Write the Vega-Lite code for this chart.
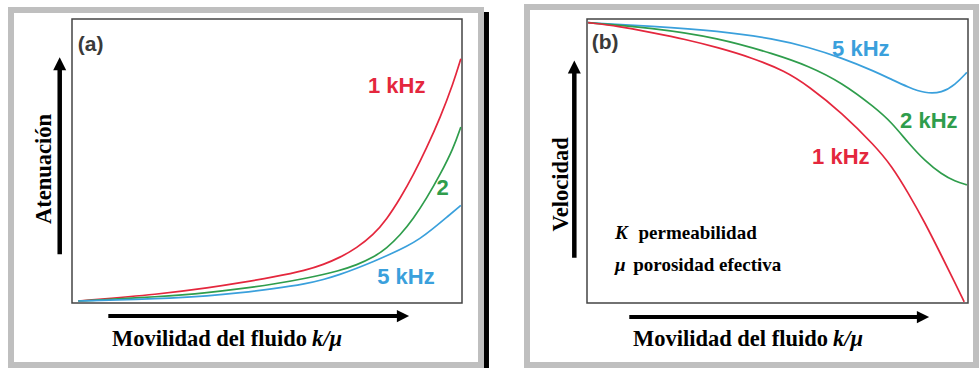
{
  "$schema": "https://vega.github.io/schema/vega-lite/v6.json",
  "background": "white",
  "padding": {"left": 8, "top": 3, "right": 0, "bottom": 0},
  "bounds": "flush",
  "spacing": 125,
  "config": {"view": {"stroke": null}},
  "datasets": {
    "curvesA": [
      {"f": "1 kHz", "x": 0.016, "y": 0.007}, {"f": "1 kHz", "x": 0.226, "y": 0.031}, {"f": "1 kHz", "x": 0.354, "y": 0.054}, {"f": "1 kHz", "x": 0.431, "y": 0.071}, {"f": "1 kHz", "x": 0.516, "y": 0.091}, {"f": "1 kHz", "x": 0.602, "y": 0.116}, {"f": "1 kHz", "x": 0.644, "y": 0.135}, {"f": "1 kHz", "x": 0.687, "y": 0.160}, {"f": "1 kHz", "x": 0.730, "y": 0.194}, {"f": "1 kHz", "x": 0.773, "y": 0.240}, {"f": "1 kHz", "x": 0.807, "y": 0.295}, {"f": "1 kHz", "x": 0.841, "y": 0.367}, {"f": "1 kHz", "x": 0.875, "y": 0.450}, {"f": "1 kHz", "x": 0.909, "y": 0.545}, {"f": "1 kHz", "x": 0.944, "y": 0.652}, {"f": "1 kHz", "x": 0.978, "y": 0.775}, {"f": "1 kHz", "x": 0.997, "y": 0.860},
      {"f": "2 kHz", "x": 0.016, "y": 0.007}, {"f": "2 kHz", "x": 0.226, "y": 0.022}, {"f": "2 kHz", "x": 0.354, "y": 0.037}, {"f": "2 kHz", "x": 0.431, "y": 0.050}, {"f": "2 kHz", "x": 0.516, "y": 0.066}, {"f": "2 kHz", "x": 0.602, "y": 0.087}, {"f": "2 kHz", "x": 0.687, "y": 0.114}, {"f": "2 kHz", "x": 0.730, "y": 0.134}, {"f": "2 kHz", "x": 0.773, "y": 0.161}, {"f": "2 kHz", "x": 0.807, "y": 0.193}, {"f": "2 kHz", "x": 0.841, "y": 0.238}, {"f": "2 kHz", "x": 0.875, "y": 0.296}, {"f": "2 kHz", "x": 0.909, "y": 0.368}, {"f": "2 kHz", "x": 0.944, "y": 0.452}, {"f": "2 kHz", "x": 0.978, "y": 0.545}, {"f": "2 kHz", "x": 0.997, "y": 0.620},
      {"f": "5 kHz", "x": 0.016, "y": 0.007}, {"f": "5 kHz", "x": 0.226, "y": 0.015}, {"f": "5 kHz", "x": 0.354, "y": 0.025}, {"f": "5 kHz", "x": 0.431, "y": 0.036}, {"f": "5 kHz", "x": 0.516, "y": 0.050}, {"f": "5 kHz", "x": 0.602, "y": 0.068}, {"f": "5 kHz", "x": 0.644, "y": 0.082}, {"f": "5 kHz", "x": 0.687, "y": 0.100}, {"f": "5 kHz", "x": 0.730, "y": 0.122}, {"f": "5 kHz", "x": 0.773, "y": 0.146}, {"f": "5 kHz", "x": 0.815, "y": 0.171}, {"f": "5 kHz", "x": 0.858, "y": 0.199}, {"f": "5 kHz", "x": 0.892, "y": 0.226}, {"f": "5 kHz", "x": 0.926, "y": 0.262}, {"f": "5 kHz", "x": 0.961, "y": 0.302}, {"f": "5 kHz", "x": 0.997, "y": 0.344}
    ],
    "curvesB": [
      {"f": "5 kHz", "x": 0.003, "y": 0.987}, {"f": "5 kHz", "x": 0.170, "y": 0.975}, {"f": "5 kHz", "x": 0.345, "y": 0.958}, {"f": "5 kHz", "x": 0.493, "y": 0.930}, {"f": "5 kHz", "x": 0.580, "y": 0.901}, {"f": "5 kHz", "x": 0.669, "y": 0.863}, {"f": "5 kHz", "x": 0.756, "y": 0.815}, {"f": "5 kHz", "x": 0.801, "y": 0.786}, {"f": "5 kHz", "x": 0.843, "y": 0.760}, {"f": "5 kHz", "x": 0.887, "y": 0.738}, {"f": "5 kHz", "x": 0.932, "y": 0.740}, {"f": "5 kHz", "x": 0.966, "y": 0.768}, {"f": "5 kHz", "x": 0.997, "y": 0.812},
      {"f": "2 kHz", "x": 0.003, "y": 0.987}, {"f": "2 kHz", "x": 0.170, "y": 0.969}, {"f": "2 kHz", "x": 0.345, "y": 0.934}, {"f": "2 kHz", "x": 0.493, "y": 0.876}, {"f": "2 kHz", "x": 0.581, "y": 0.835}, {"f": "2 kHz", "x": 0.669, "y": 0.776}, {"f": "2 kHz", "x": 0.756, "y": 0.688}, {"f": "2 kHz", "x": 0.800, "y": 0.635}, {"f": "2 kHz", "x": 0.843, "y": 0.564}, {"f": "2 kHz", "x": 0.887, "y": 0.500}, {"f": "2 kHz", "x": 0.931, "y": 0.453}, {"f": "2 kHz", "x": 0.966, "y": 0.428}, {"f": "2 kHz", "x": 0.997, "y": 0.416},
      {"f": "1 kHz", "x": 0.003, "y": 0.987}, {"f": "1 kHz", "x": 0.082, "y": 0.975}, {"f": "1 kHz", "x": 0.170, "y": 0.952}, {"f": "1 kHz", "x": 0.257, "y": 0.929}, {"f": "1 kHz", "x": 0.345, "y": 0.899}, {"f": "1 kHz", "x": 0.432, "y": 0.864}, {"f": "1 kHz", "x": 0.520, "y": 0.817}, {"f": "1 kHz", "x": 0.581, "y": 0.764}, {"f": "1 kHz", "x": 0.669, "y": 0.670}, {"f": "1 kHz", "x": 0.756, "y": 0.553}, {"f": "1 kHz", "x": 0.800, "y": 0.482}, {"f": "1 kHz", "x": 0.843, "y": 0.388}, {"f": "1 kHz", "x": 0.887, "y": 0.283}, {"f": "1 kHz", "x": 0.931, "y": 0.165}, {"f": "1 kHz", "x": 0.966, "y": 0.071}, {"f": "1 kHz", "x": 0.990, "y": 0.004}
    ],
    "labelsA": [
      {"t": "1 kHz", "f": "1 kHz", "x": 0.8326, "y": 0.7648},
      {"t": "2", "f": "2 kHz", "x": 0.950, "y": 0.4056},
      {"t": "5 kHz", "f": "5 kHz", "x": 0.8564, "y": 0.0915}
    ],
    "labelsB": [
      {"t": "5 kHz", "f": "5 kHz", "x": 0.7187, "y": 0.8961},
      {"t": "2 kHz", "f": "2 kHz", "x": 0.8971, "y": 0.6423},
      {"t": "1 kHz", "f": "1 kHz", "x": 0.6662, "y": 0.5130}
    ]
  },
  "hconcat": [
    {
      "width": 390,
      "height": 284,
      "layer": [
        {"data": {"values": [{}]}, "mark": {"type": "rect", "fill": "#000000"},
         "encoding": {"x": {"datum": -0.1513, "type": "quantitative", "scale": {"domain": [0, 1], "nice": false, "zero": false}, "axis": null}, "x2": {"datum": 1.0692}, "y": {"datum": 1.0246, "type": "quantitative", "scale": {"domain": [0, 1], "nice": false, "zero": false}, "axis": null}, "y2": {"datum": -0.2324}}},
        {"data": {"values": [{}]}, "mark": {"type": "rect", "fill": "#ffffff", "stroke": "#bfbfbf", "strokeWidth": 6},
         "encoding": {"x": {"datum": -0.1564, "type": "quantitative", "axis": null}, "x2": {"datum": 1.0487}, "y": {"datum": 1.0317, "type": "quantitative", "axis": null}, "y2": {"datum": -0.2183}}},
        {"data": {"values": [{}]}, "mark": {"type": "rect", "fill": "#ffffff", "fillOpacity": 0, "stroke": "#444444", "strokeWidth": 1.5},
         "encoding": {"x": {"datum": 0, "type": "quantitative", "axis": null}, "x2": {"datum": 1}, "y": {"datum": 1, "type": "quantitative", "axis": null}, "y2": {"datum": 0}}},
        {"data": {"name": "curvesA"}, "mark": {"type": "line", "interpolate": "basis", "strokeWidth": 1.7},
         "encoding": {"x": {"field": "x", "type": "quantitative", "axis": null}, "y": {"field": "y", "type": "quantitative", "axis": null}, "color": {"field": "f", "type": "nominal", "scale": {"domain": ["1 kHz", "2 kHz", "5 kHz"], "range": ["#e4273d", "#2f9d4c", "#3aa0dc"]}, "legend": null}}},
        {"data": {"name": "labelsA"}, "mark": {"type": "text", "font": "Liberation Sans", "fontWeight": "bold", "fontSize": 22, "align": "center", "baseline": "middle"},
         "encoding": {"x": {"field": "x", "type": "quantitative", "axis": null}, "y": {"field": "y", "type": "quantitative", "axis": null}, "text": {"field": "t"}, "color": {"field": "f", "type": "nominal", "legend": null}}},
        {"data": {"values": [{}]}, "mark": {"type": "text", "text": "(a)", "font": "Liberation Sans", "fontWeight": "bold", "fontSize": 21, "align": "left", "baseline": "middle", "color": "#3a3a3a"},
         "encoding": {"x": {"datum": 0.015, "type": "quantitative", "axis": null}, "y": {"datum": 0.9077, "type": "quantitative", "axis": null}}},
        {"data": {"values": [{}]}, "mark": {"type": "rule", "color": "#000000", "strokeWidth": 4.5},
         "encoding": {"x": {"datum": -0.0315, "type": "quantitative", "axis": null}, "y": {"datum": 0.1715, "type": "quantitative", "axis": null}, "y2": {"datum": 0.82}}},
        {"data": {"values": [{}]}, "mark": {"type": "point", "shape": "M-1,1L1,1L0,-1Z", "filled": true, "color": "#000000", "opacity": 1, "size": 169, "strokeWidth": 0},
         "encoding": {"x": {"datum": -0.0315, "type": "quantitative", "axis": null}, "y": {"datum": 0.8426, "type": "quantitative", "axis": null}}},
        {"data": {"values": [{}]}, "mark": {"type": "rule", "color": "#000000", "strokeWidth": 4},
         "encoding": {"x": {"datum": 0.0931, "type": "quantitative", "axis": null}, "x2": {"datum": 0.84}, "y": {"datum": -0.0458, "type": "quantitative", "axis": null}}},
        {"data": {"values": [{}]}, "mark": {"type": "point", "shape": "M-1,-1L1,0L-1,1Z", "filled": true, "color": "#000000", "opacity": 1, "size": 150, "strokeWidth": 0},
         "encoding": {"x": {"datum": 0.8487, "type": "quantitative", "axis": null}, "y": {"datum": -0.0458, "type": "quantitative", "axis": null}}},
        {"data": {"values": [{}]}, "mark": {"type": "text", "text": "Atenuación", "font": "Liberation Serif", "fontWeight": "bold", "fontSize": 22.5, "angle": 270, "align": "center", "baseline": "alphabetic", "color": "#000000"},
         "encoding": {"x": {"datum": -0.0526, "type": "quantitative", "axis": null}, "y": {"datum": 0.472, "type": "quantitative", "axis": null}}},
        {"data": {"values": [{}]}, "mark": {"type": "text", "text": "Movilidad del fluido", "font": "Liberation Serif", "fontWeight": "bold", "fontSize": 22.5, "align": "right", "baseline": "alphabetic", "color": "#000000"},
         "encoding": {"x": {"datum": 0.6026, "type": "quantitative", "axis": null}, "y": {"datum": -0.1514, "type": "quantitative", "axis": null}}},
        {"data": {"values": [{}]}, "mark": {"type": "text", "text": "k/μ", "font": "Liberation Serif", "fontWeight": "bold", "fontStyle": "italic", "fontSize": 22.5, "align": "left", "baseline": "alphabetic", "color": "#000000"},
         "encoding": {"x": {"datum": 0.6154, "type": "quantitative", "axis": null}, "y": {"datum": -0.1514, "type": "quantitative", "axis": null}}}
      ]
    },
    {
      "width": 381,
      "height": 284,
      "layer": [
        {"data": {"values": [{}]}, "mark": {"type": "rect", "fill": "#000000"},
         "encoding": {"x": {"datum": -0.1522, "type": "quantitative", "scale": {"domain": [0, 1], "nice": false, "zero": false}, "axis": null}, "x2": {"datum": 1.0289}, "y": {"datum": 1.0352, "type": "quantitative", "scale": {"domain": [0, 1], "nice": false, "zero": false}, "axis": null}, "y2": {"datum": -0.2324}}},
        {"data": {"values": [{}]}, "mark": {"type": "rect", "fill": "#ffffff", "stroke": "#bfbfbf", "strokeWidth": 6},
         "encoding": {"x": {"datum": -0.1575, "type": "quantitative", "axis": null}, "x2": {"datum": 1.021}, "y": {"datum": 1.0423, "type": "quantitative", "axis": null}, "y2": {"datum": -0.2183}}},
        {"data": {"values": [{}]}, "mark": {"type": "rect", "fill": "#ffffff", "fillOpacity": 0, "stroke": "#444444", "strokeWidth": 1.5},
         "encoding": {"x": {"datum": 0, "type": "quantitative", "axis": null}, "x2": {"datum": 1}, "y": {"datum": 1, "type": "quantitative", "axis": null}, "y2": {"datum": 0}}},
        {"data": {"name": "curvesB"}, "mark": {"type": "line", "interpolate": "basis", "strokeWidth": 1.7},
         "encoding": {"x": {"field": "x", "type": "quantitative", "axis": null}, "y": {"field": "y", "type": "quantitative", "axis": null}, "color": {"field": "f", "type": "nominal", "scale": {"domain": ["1 kHz", "2 kHz", "5 kHz"], "range": ["#e4273d", "#2f9d4c", "#3aa0dc"]}, "legend": null}}},
        {"data": {"name": "labelsB"}, "mark": {"type": "text", "font": "Liberation Sans", "fontWeight": "bold", "fontSize": 22, "align": "center", "baseline": "middle"},
         "encoding": {"x": {"field": "x", "type": "quantitative", "axis": null}, "y": {"field": "y", "type": "quantitative", "axis": null}, "text": {"field": "t"}, "color": {"field": "f", "type": "nominal", "legend": null}}},
        {"data": {"values": [{}]}, "mark": {"type": "text", "text": "(b)", "font": "Liberation Sans", "fontWeight": "bold", "fontSize": 21, "align": "left", "baseline": "middle", "color": "#3a3a3a"},
         "encoding": {"x": {"datum": 0.0123, "type": "quantitative", "axis": null}, "y": {"datum": 0.9166, "type": "quantitative", "axis": null}}},
        {"data": {"values": [{}]}, "mark": {"type": "rule", "color": "#000000", "strokeWidth": 4.5},
         "encoding": {"x": {"datum": -0.0333, "type": "quantitative", "axis": null}, "y": {"datum": 0.1595, "type": "quantitative", "axis": null}, "y2": {"datum": 0.81}}},
        {"data": {"values": [{}]}, "mark": {"type": "point", "shape": "M-1,1L1,1L0,-1Z", "filled": true, "color": "#000000", "opacity": 1, "size": 169, "strokeWidth": 0},
         "encoding": {"x": {"datum": -0.0333, "type": "quantitative", "axis": null}, "y": {"datum": 0.8314, "type": "quantitative", "axis": null}}},
        {"data": {"values": [{}]}, "mark": {"type": "rule", "color": "#000000", "strokeWidth": 4},
         "encoding": {"x": {"datum": 0.111, "type": "quantitative", "axis": null}, "x2": {"datum": 0.875}, "y": {"datum": -0.0493, "type": "quantitative", "axis": null}}},
        {"data": {"values": [{}]}, "mark": {"type": "point", "shape": "M-1,-1L1,0L-1,1Z", "filled": true, "color": "#000000", "opacity": 1, "size": 150, "strokeWidth": 0},
         "encoding": {"x": {"datum": 0.8819, "type": "quantitative", "axis": null}, "y": {"datum": -0.0493, "type": "quantitative", "axis": null}}},
        {"data": {"values": [{}]}, "mark": {"type": "text", "text": "Velocidad", "font": "Liberation Serif", "fontWeight": "bold", "fontSize": 22.5, "angle": 270, "align": "center", "baseline": "alphabetic", "color": "#000000"},
         "encoding": {"x": {"datum": -0.0499, "type": "quantitative", "axis": null}, "y": {"datum": 0.418, "type": "quantitative", "axis": null}}},
        {"data": {"values": [{}]}, "mark": {"type": "text", "text": "K", "font": "Liberation Serif", "fontWeight": "bold", "fontStyle": "italic", "fontSize": 19, "align": "left", "baseline": "alphabetic", "color": "#000000"},
         "encoding": {"x": {"datum": 0.0735, "type": "quantitative", "axis": null}, "y": {"datum": 0.2271, "type": "quantitative", "axis": null}}},
        {"data": {"values": [{}]}, "mark": {"type": "text", "text": "permeabilidad", "font": "Liberation Serif", "fontWeight": "bold", "fontSize": 19, "align": "left", "baseline": "alphabetic", "color": "#000000"},
         "encoding": {"x": {"datum": 0.1352, "type": "quantitative", "axis": null}, "y": {"datum": 0.2271, "type": "quantitative", "axis": null}}},
        {"data": {"values": [{}]}, "mark": {"type": "text", "text": "μ", "font": "Liberation Serif", "fontWeight": "bold", "fontStyle": "italic", "fontSize": 19, "align": "left", "baseline": "alphabetic", "color": "#000000"},
         "encoding": {"x": {"datum": 0.0735, "type": "quantitative", "axis": null}, "y": {"datum": 0.1127, "type": "quantitative", "axis": null}}},
        {"data": {"values": [{}]}, "mark": {"type": "text", "text": "porosidad efectiva", "font": "Liberation Serif", "fontWeight": "bold", "fontSize": 19, "align": "left", "baseline": "alphabetic", "color": "#000000"},
         "encoding": {"x": {"datum": 0.1215, "type": "quantitative", "axis": null}, "y": {"datum": 0.1127, "type": "quantitative", "axis": null}}},
        {"data": {"values": [{}]}, "mark": {"type": "text", "text": "Movilidad del fluido", "font": "Liberation Serif", "fontWeight": "bold", "fontSize": 22.5, "align": "right", "baseline": "alphabetic", "color": "#000000"},
         "encoding": {"x": {"datum": 0.6325, "type": "quantitative", "axis": null}, "y": {"datum": -0.1514, "type": "quantitative", "axis": null}}},
        {"data": {"values": [{}]}, "mark": {"type": "text", "text": "k/μ", "font": "Liberation Serif", "fontWeight": "bold", "fontStyle": "italic", "fontSize": 22.5, "align": "left", "baseline": "alphabetic", "color": "#000000"},
         "encoding": {"x": {"datum": 0.6457, "type": "quantitative", "axis": null}, "y": {"datum": -0.1514, "type": "quantitative", "axis": null}}}
      ]
    }
  ]
}
